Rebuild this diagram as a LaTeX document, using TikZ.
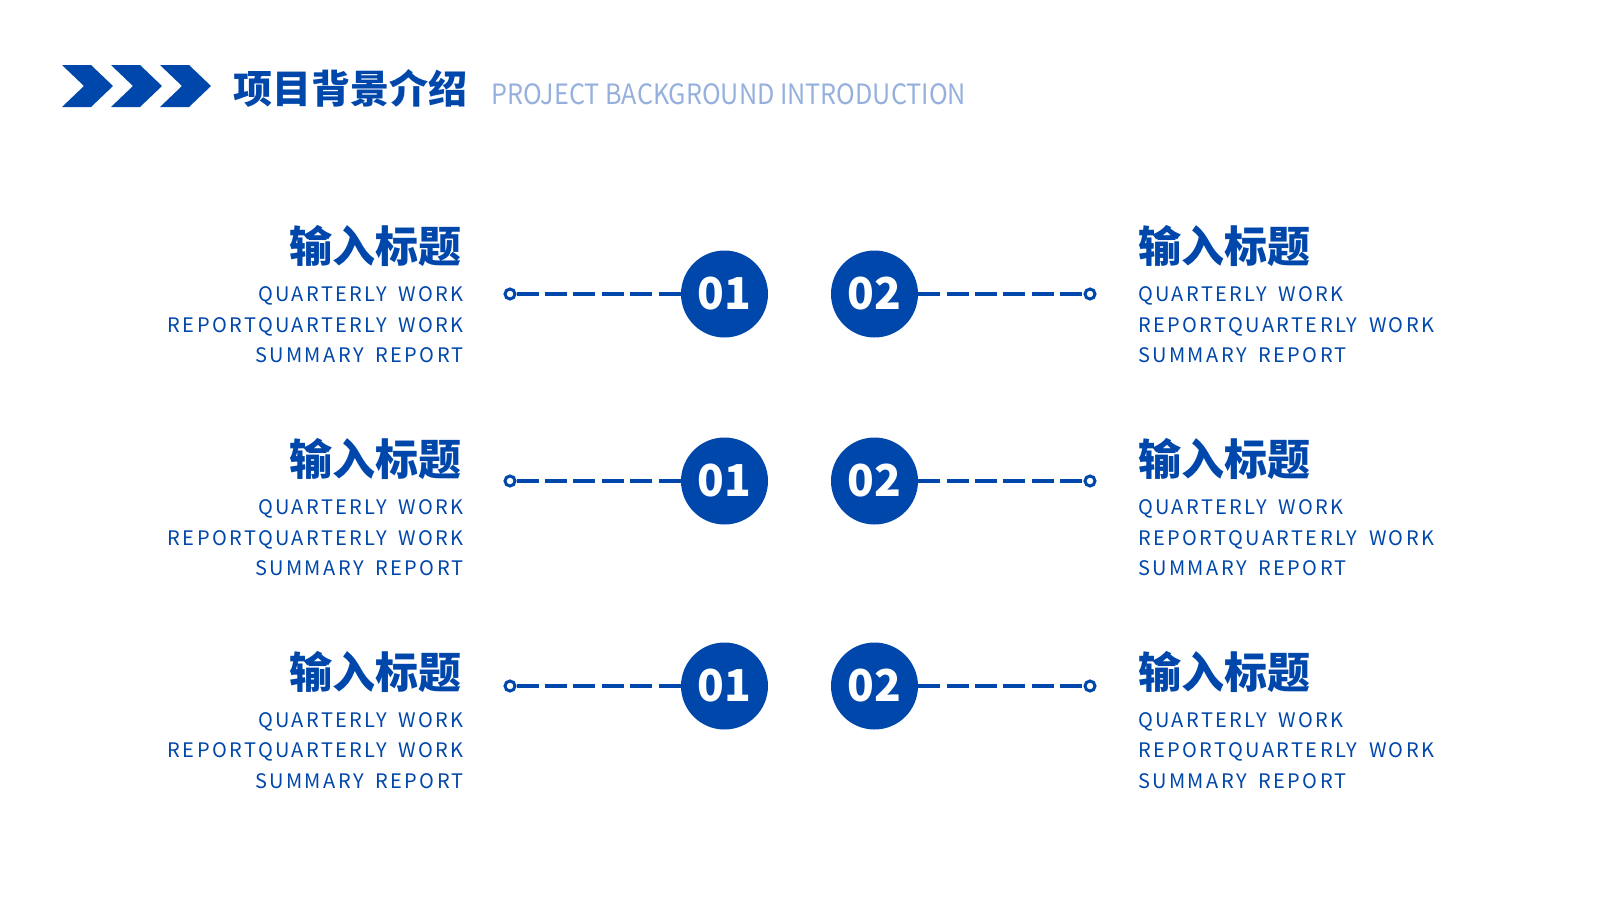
\documentclass[tikz,border=0pt]{standalone}
\usepackage{fontspec}
\setmainfont{Noto Sans CJK SC}
\newfontfamily\cjk{Noto Sans CJK SC}
\newfontfamily\narrow{Noto Sans CJK SC}[FakeStretch=0.9]
\newfontfamily\spaced{Noto Sans CJK SC}[LetterSpace=12,WordSpace=1.7]
\definecolor{navy}{RGB}{0,71,171}
\definecolor{haze}{RGB}{150,176,222}

\begin{document}
\begin{tikzpicture}[x=1pt,y=-1pt,
    dot/.style={circle,draw=navy,line width=3pt,fill=white,minimum size=10pt,inner sep=0pt},
    badge/.style={circle,fill=navy,minimum size=87pt,inner sep=0pt,text=white,font=\cjk\bfseries\fontsize{44}{44}\selectfont},
    link/.style={navy,line width=3.5pt,dash pattern=on 22pt off 6.4pt},
    heading/.style={inner sep=0pt,text=navy,font=\cjk\bfseries\fontsize{43}{43}\selectfont},
    body/.style={inner sep=0pt,text=navy,font=\spaced\fontsize{20}{30.6}\selectfont}]
    \useasboundingbox[fill=white] (0,0) rectangle (1600,900);
    \foreach \k in {0,1,2}
        \fill[navy] (62+\k*49,65) -- ++(29,0) -- ++(22,21) -- ++(-22,21) -- ++(-29,0) -- ++(22,-21) -- cycle;
    \node[inner sep=0pt,anchor=west,text=navy,font=\cjk\bfseries\fontsize{39}{39}\selectfont] (title) at (233,88) {项目背景介绍};
    \node[inner sep=0pt,anchor=west,text=haze,font=\narrow\fontsize{28}{28}\selectfont] (subtitle) at (491,94.5) {PROJECT BACKGROUND INTRODUCTION};
    \foreach \n/\cy/\ty in {1/294/246,2/481/459,3/686/671.5} {
        \node[dot] (la\n) at (510,\cy) {};
        \node[badge] (ca\n) at (724.5,\cy) {01};
        \node[badge] (cb\n) at (874.5,\cy) {02};
        \node[dot] (rb\n) at (1090,\cy) {};
        \draw[link] (la\n) -- (ca\n);
        \draw[link] (cb\n) -- (rb\n);
        \node[heading,anchor=east] (hl\n) at (462,\ty) {输入标题};
        \node[body,anchor=north east,align=right] (bl\n) at (464,\ty+40.5) {QUARTERLY WORK\\REPORTQUARTERLY WORK\\SUMMARY REPORT};
        \node[heading,anchor=west] (hr\n) at (1138,\ty) {输入标题};
        \node[body,anchor=north west,align=left] (br\n) at (1138,\ty+40.5) {QUARTERLY WORK\\REPORTQUARTERLY WORK\\SUMMARY REPORT};
    }
\end{tikzpicture}
\end{document}
